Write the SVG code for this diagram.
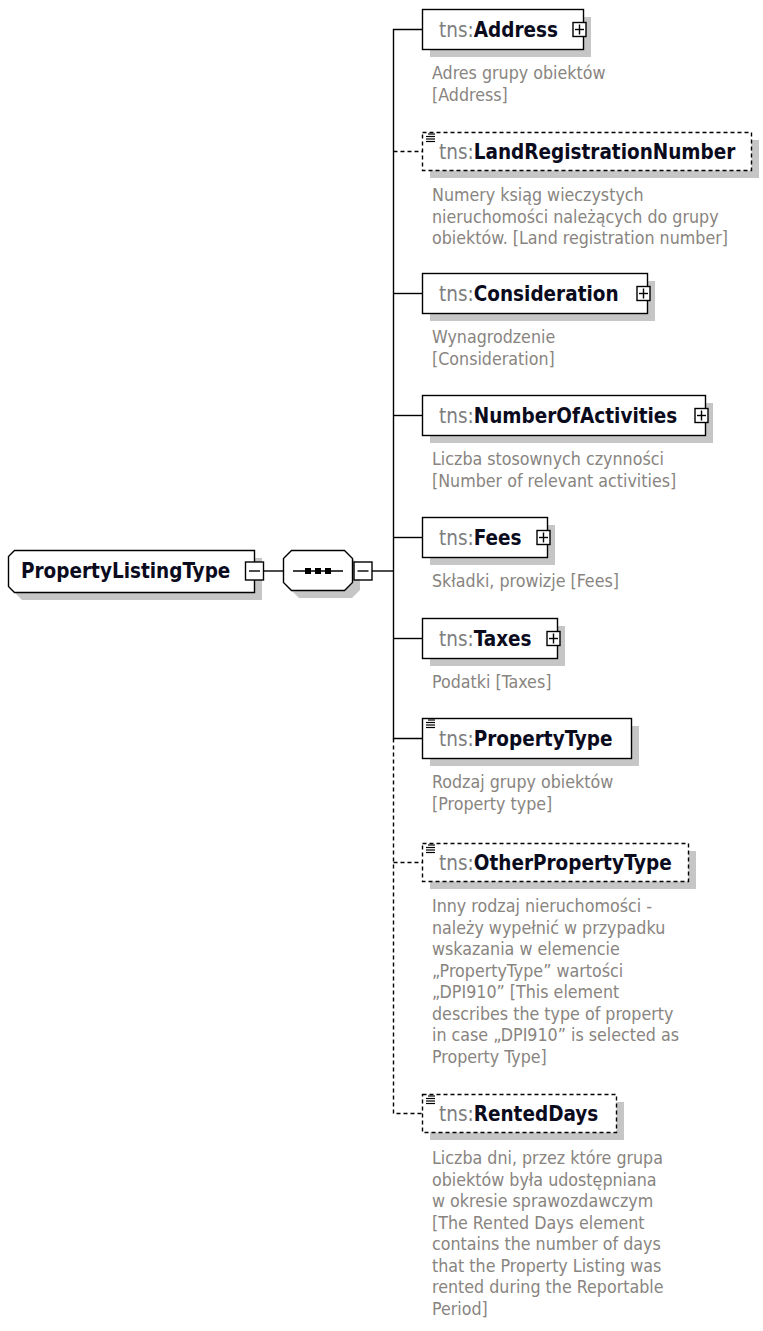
<svg xmlns="http://www.w3.org/2000/svg" width="763" height="1331" viewBox="0 0 763 1331">
<style>
.bg{fill:#ffffff}
.box{fill:#ffffff;stroke:#000000;stroke-width:1.4}
.dbox{fill:#ffffff;stroke:#000000;stroke-width:1.4;stroke-dasharray:4,3}
.sh{fill:#c6c6c6}
.ln{stroke:#000000;stroke-width:1.4;fill:none}
.dln{stroke:#000000;stroke-width:1.4;fill:none;stroke-dasharray:4,3}
.pm{fill:#ffffff;stroke:#000000;stroke-width:1.4}
.pml{stroke:#000000;stroke-width:1.4}
.nm{font-family:"DejaVu Sans Condensed","DejaVu Sans",sans-serif;font-stretch:condensed;font-size:20.5px}
.ns{fill:#7d7d7d}
.bd{font-weight:bold;fill:#0b0b1e}
.ds{font-family:"DejaVu Sans Condensed","DejaVu Sans",sans-serif;font-stretch:condensed;font-size:17.7px;fill:#888480}
.ic{stroke:#000000;stroke-width:1.2}
</style>
<rect class="bg" x="0" y="0" width="763" height="1331"/>

<g id="connectors">
<line class="ln" x1="263" y1="571" x2="283" y2="571"/>
<line class="ln" x1="372" y1="571" x2="393.5" y2="571"/>
<polyline class="ln" points="422,29.5 393.5,29.5 393.5,738.5 422,738.5"/>
<line class="dln" x1="393.5" y1="151.5" x2="422" y2="151.5"/>
<line class="ln" x1="393.5" y1="293.5" x2="422" y2="293.5"/>
<line class="ln" x1="393.5" y1="415.5" x2="422" y2="415.5"/>
<line class="ln" x1="393.5" y1="537.5" x2="422" y2="537.5"/>
<line class="ln" x1="393.5" y1="638.5" x2="422" y2="638.5"/>
<polyline class="dln" points="393.5,738.5 393.5,1113.5 422,1113.5"/>
<line class="dln" x1="393.5" y1="862.5" x2="422" y2="862.5"/>
</g>

<g id="PropertyListingType">
<polygon class="sh" points="22,558 262,558 262,600 22,600 16,594 16,564"/>
<polygon class="box" points="14.5,550.5 254.5,550.5 254.5,592.5 14.5,592.5 8.5,586.5 8.5,556.5"/>
<text class="nm bd" x="21" y="578">PropertyListingType</text>
<rect class="pm" x="245.5" y="562" width="18" height="18"/>
<line class="pml" x1="249" y1="571" x2="260" y2="571"/>
</g>

<g id="sequence">
<polygon class="sh" points="299,558 352,558 360,566 360,590 352,598 299,598 291,590 291,566"/>
<polygon class="box" points="291.5,550.5 344.5,550.5 352.5,558.5 352.5,582.5 344.5,590.5 291.5,590.5 283.5,582.5 283.5,558.5"/>
<line class="ln" x1="293" y1="571" x2="343" y2="571"/>
<rect x="305" y="568" width="6" height="6" fill="#000"/>
<rect x="315" y="568" width="6" height="6" fill="#000"/>
<rect x="325" y="568" width="6" height="6" fill="#000"/>
<rect class="pm" x="354" y="562" width="18" height="18"/>
<line class="pml" x1="357.5" y1="571" x2="368.5" y2="571"/>
</g>

<g id="Address">
<rect class="sh" x="430" y="17" width="161" height="40"/>
<rect class="box" x="422.5" y="9.5" width="161" height="40"/>
<text class="nm" x="439" y="37"><tspan class="ns">tns:</tspan><tspan class="bd">Address</tspan></text>
<rect class="pm" x="573" y="22.5" width="13" height="14"/>
<line class="pml" x1="575" y1="29.5" x2="584" y2="29.5"/><line class="pml" x1="579.5" y1="24.5" x2="579.5" y2="34.5"/>
<text class="ds" x="432"><tspan x="432" y="79">Adres grupy obiektów</tspan><tspan x="432" y="100.5">[Address]</tspan></text>
</g>

<g id="LandRegistrationNumber">
<rect class="sh" x="430" y="140" width="329" height="38"/>
<rect class="dbox" x="422.5" y="132.5" width="329" height="38"/>
<line class="ic" x1="428" y1="134" x2="435" y2="134"/><line class="ic" x1="426" y1="136.5" x2="435" y2="136.5"/><line class="ic" x1="426" y1="139" x2="435" y2="139"/><line class="ic" x1="426" y1="141.5" x2="435" y2="141.5"/>
<text class="nm" x="439" y="159"><tspan class="ns">tns:</tspan><tspan class="bd">LandRegistrationNumber</tspan></text>
<text class="ds" x="432"><tspan x="432" y="201">Numery ksiąg wieczystych</tspan><tspan x="432" y="222.5">nieruchomości należących do grupy</tspan><tspan x="432" y="244">obiektów. [Land registration number]</tspan></text>
</g>

<g id="Consideration">
<rect class="sh" x="430" y="281" width="225" height="40"/>
<rect class="box" x="422.5" y="273.5" width="225" height="40"/>
<text class="nm" x="439" y="301"><tspan class="ns">tns:</tspan><tspan class="bd">Consideration</tspan></text>
<rect class="pm" x="637" y="286.5" width="13" height="14"/>
<line class="pml" x1="639" y1="293.5" x2="648" y2="293.5"/><line class="pml" x1="643.5" y1="288.5" x2="643.5" y2="298.5"/>
<text class="ds" x="432"><tspan x="432" y="343">Wynagrodzenie</tspan><tspan x="432" y="364.5">[Consideration]</tspan></text>
</g>

<g id="NumberOfActivities">
<rect class="sh" x="430" y="403" width="283" height="40"/>
<rect class="box" x="422.5" y="395.5" width="283" height="40"/>
<text class="nm" x="439" y="423"><tspan class="ns">tns:</tspan><tspan class="bd">NumberOfActivities</tspan></text>
<rect class="pm" x="695" y="408.5" width="13" height="14"/>
<line class="pml" x1="697" y1="415.5" x2="706" y2="415.5"/><line class="pml" x1="701.5" y1="410.5" x2="701.5" y2="420.5"/>
<text class="ds" x="432"><tspan x="432" y="465">Liczba stosownych czynności</tspan><tspan x="432" y="486.5">[Number of relevant activities]</tspan></text>
</g>

<g id="Fees">
<rect class="sh" x="430" y="525" width="125" height="40"/>
<rect class="box" x="422.5" y="517.5" width="125" height="40"/>
<text class="nm" x="439" y="545"><tspan class="ns">tns:</tspan><tspan class="bd">Fees</tspan></text>
<rect class="pm" x="537" y="530.5" width="13" height="14"/>
<line class="pml" x1="539" y1="537.5" x2="548" y2="537.5"/><line class="pml" x1="543.5" y1="532.5" x2="543.5" y2="542.5"/>
<text class="ds" x="432" y="587">Składki, prowizje [Fees]</text>
</g>

<g id="Taxes">
<rect class="sh" x="430" y="626" width="135" height="40"/>
<rect class="box" x="422.5" y="618.5" width="135" height="40"/>
<text class="nm" x="439" y="646"><tspan class="ns">tns:</tspan><tspan class="bd">Taxes</tspan></text>
<rect class="pm" x="547" y="631.5" width="13" height="14"/>
<line class="pml" x1="549" y1="638.5" x2="558" y2="638.5"/><line class="pml" x1="553.5" y1="633.5" x2="553.5" y2="643.5"/>
<text class="ds" x="432" y="688">Podatki [Taxes]</text>
</g>

<g id="PropertyType">
<rect class="sh" x="430" y="726" width="209" height="40"/>
<rect class="box" x="422.5" y="718.5" width="209" height="40"/>
<line class="ic" x1="428" y1="720" x2="435" y2="720"/><line class="ic" x1="426" y1="722.5" x2="435" y2="722.5"/><line class="ic" x1="426" y1="725" x2="435" y2="725"/><line class="ic" x1="426" y1="727.5" x2="435" y2="727.5"/>
<text class="nm" x="439" y="746"><tspan class="ns">tns:</tspan><tspan class="bd">PropertyType</tspan></text>
<text class="ds" x="432"><tspan x="432" y="788">Rodzaj grupy obiektów</tspan><tspan x="432" y="809.5">[Property type]</tspan></text>
</g>

<g id="OtherPropertyType">
<rect class="sh" x="430" y="851" width="266" height="38"/>
<rect class="dbox" x="422.5" y="843.5" width="266" height="38"/>
<line class="ic" x1="428" y1="845" x2="435" y2="845"/><line class="ic" x1="426" y1="847.5" x2="435" y2="847.5"/><line class="ic" x1="426" y1="850" x2="435" y2="850"/><line class="ic" x1="426" y1="852.5" x2="435" y2="852.5"/>
<text class="nm" x="439" y="870"><tspan class="ns">tns:</tspan><tspan class="bd">OtherPropertyType</tspan></text>
<text class="ds" x="432"><tspan x="432" y="912">Inny rodzaj nieruchomości -</tspan><tspan x="432" y="933.5">należy wypełnić w przypadku</tspan><tspan x="432" y="955">wskazania w elemencie</tspan><tspan x="432" y="976.5">„PropertyType” wartości</tspan><tspan x="432" y="998">„DPI910” [This element</tspan><tspan x="432" y="1019.5">describes the type of property</tspan><tspan x="432" y="1041">in case „DPI910” is selected as</tspan><tspan x="432" y="1062.5">Property Type]</tspan></text>
</g>

<g id="RentedDays">
<rect class="sh" x="430" y="1102" width="194" height="38"/>
<rect class="dbox" x="422.5" y="1094.5" width="194" height="38"/>
<line class="ic" x1="428" y1="1096" x2="435" y2="1096"/><line class="ic" x1="426" y1="1098.5" x2="435" y2="1098.5"/><line class="ic" x1="426" y1="1101" x2="435" y2="1101"/><line class="ic" x1="426" y1="1103.5" x2="435" y2="1103.5"/>
<text class="nm" x="439" y="1121"><tspan class="ns">tns:</tspan><tspan class="bd">RentedDays</tspan></text>
<text class="ds" x="432"><tspan x="432" y="1164">Liczba dni, przez które grupa</tspan><tspan x="432" y="1185.5">obiektów była udostępniana</tspan><tspan x="432" y="1207">w okresie sprawozdawczym</tspan><tspan x="432" y="1228.5">[The Rented Days element</tspan><tspan x="432" y="1250">contains the number of days</tspan><tspan x="432" y="1271.5">that the Property Listing was</tspan><tspan x="432" y="1293">rented during the Reportable</tspan><tspan x="432" y="1314.5">Period]</tspan></text>
</g>
</svg>
